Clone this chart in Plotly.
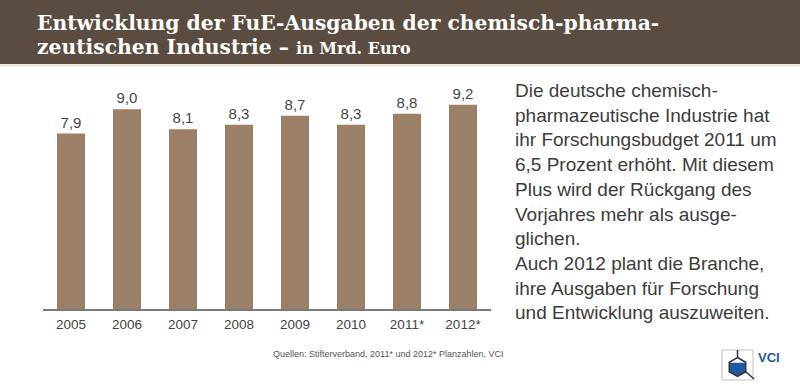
import math
import plotly.graph_objects as go

years = ["2005", "2006", "2007", "2008", "2009", "2010", "2011*", "2012*"]
values = [7.9, 9.0, 8.1, 8.3, 8.7, 8.3, 8.8, 9.2]
value_labels = ["7,9", "9,0", "8,1", "8,3", "8,7", "8,3", "8,8", "9,2"]

W, H = 800, 387

def px(x, y):
    return x / W, 1 - y / H

BAR = "#9b7f67"
TXT = "#3c3c3c"

fig = go.Figure()
fig.add_trace(go.Bar(
    x=years, y=values, text=value_labels, textposition="outside",
    textfont=dict(family="Liberation Sans, Arial", size=15, color="#474747"),
    marker=dict(color=BAR, line=dict(width=0)),
    cliponaxis=False, hoverinfo="skip",
))

shapes = []
# header band
shapes.append(dict(type="rect", xref="paper", yref="paper", x0=0, x1=1,
                   y0=px(0, 64)[1], y1=1, fillcolor="#5a4c40", line=dict(width=0), layer="below"))
shapes.append(dict(type="rect", xref="paper", yref="paper", x0=0, x1=1,
                   y0=px(0, 67)[1], y1=px(0, 64)[1], fillcolor="#efe8dc", line=dict(width=0), layer="below"))

# VCI logo
bx0, by0, bx1, by1 = 722, 350, 753, 380
x0, y0 = px(bx0, by0); x1, y1 = px(bx1, by1)
shapes.append(dict(type="rect", xref="paper", yref="paper", x0=x0, x1=x1, y0=y1, y1=y0,
                   fillcolor="white", line=dict(color="#bfbfbf", width=1)))
cx, cy, r = 737.5, 367, 9.5
verts = [(cx + r * math.cos(math.radians(a)), cy - r * math.sin(math.radians(a)))
         for a in (90, 30, -30, -90, -150, 150)]

def path(pts, close=True):
    s = ""
    for i, (x, y) in enumerate(pts):
        X, Y = px(x, y)
        s += ("M" if i == 0 else "L") + f"{X:.5f},{Y:.5f} "
    return s + ("Z" if close else "")

fy = cy - r * 0.45
blue = [(verts[5][0], fy), (verts[1][0], fy), verts[2], verts[3], verts[4], (verts[4][0], fy)]
shapes.append(dict(type="path", xref="paper", yref="paper", path=path(blue),
                   fillcolor="#1f5aa6", line=dict(width=0)))
shapes.append(dict(type="path", xref="paper", yref="paper", path=path(verts),
                   fillcolor="rgba(0,0,0,0)", line=dict(color="#333333", width=1.5)))
shapes.append(dict(type="path", xref="paper", yref="paper",
                   path=path([(cx, by0), verts[0]], close=False), line=dict(color="#333333", width=1.5)))
shapes.append(dict(type="path", xref="paper", yref="paper",
                   path=path([verts[2], (bx1 + 1, by1 - 1)], close=False), line=dict(color="#333333", width=1.5)))

annotations = []
tx, ty = px(35, 23)
annotations.append(dict(xref="paper", yref="paper", x=tx, y=ty, xanchor="left", yanchor="middle",
                        text="<b>Entwicklung der FuE-Ausgaben der chemisch-pharma-</b>",
                        showarrow=False, font=dict(family="DejaVu Serif", size=20.3, color="white")))
tx, ty = px(35, 47)
annotations.append(dict(xref="paper", yref="paper", x=tx, y=ty, xanchor="left", yanchor="middle",
                        text="<b>zeutischen Industrie – </b><b><span style='font-size:16px'>in Mrd. Euro</span></b>",
                        showarrow=False, font=dict(family="DejaVu Serif", size=20.3, color="white")))

body = ("Die deutsche chemisch-<br>pharmazeutische Industrie hat<br>ihr Forschungsbudget 2011 um<br>"
        "6,5 Prozent erhöht. Mit diesem<br>Plus wird der Rückgang des<br>Vorjahres mehr als ausge-<br>"
        "glichen.<br>Auch 2012 plant die Branche,<br>ihre Ausgaben für Forschung<br>und Entwicklung auszuweiten.")
tx, ty = px(513, 201)
annotations.append(dict(xref="paper", yref="paper", x=tx, y=ty, xanchor="left", yanchor="middle",
                        text=body, align="left", showarrow=False,
                        font=dict(family="Liberation Sans, Arial", size=19, color=TXT)))
tx, ty = px(271, 354)
annotations.append(dict(xref="paper", yref="paper", x=tx, y=ty, xanchor="left", yanchor="middle",
                        text="Quellen: Stifterverband, 2011* und 2012* Planzahlen, VCI", showarrow=False,
                        font=dict(family="Liberation Sans, Arial", size=9, color="#555555")))
tx, ty = px(756, 357)
annotations.append(dict(xref="paper", yref="paper", x=tx, y=ty, xanchor="left", yanchor="middle",
                        text="<b>VCI</b>", showarrow=False,
                        font=dict(family="Liberation Sans, Arial", size=13, color="#1f5aa6")))

fig.update_layout(
    width=W, height=H, margin=dict(l=0, r=0, t=0, b=0),
    paper_bgcolor="white", plot_bgcolor="white",
    showlegend=False, bargap=0.5,
    xaxis=dict(domain=[43 / W, 491 / W], showline=True, linecolor="#7a7a7a", linewidth=1.5,
               ticks="", showgrid=False, tickfont=dict(family="Liberation Sans, Arial", size=13.5, color="#444444"),
               ticklabelstandoff=2, fixedrange=True),
    yaxis=dict(domain=[1 - 309 / H, 1 - 87 / H], range=[0, 10], visible=False, fixedrange=True),
    shapes=shapes, annotations=annotations,
)
fig.write_html("out.html", config={"displayModeBar": False},
               post_script="document.body.style.margin='0';document.body.style.overflow='hidden';")
